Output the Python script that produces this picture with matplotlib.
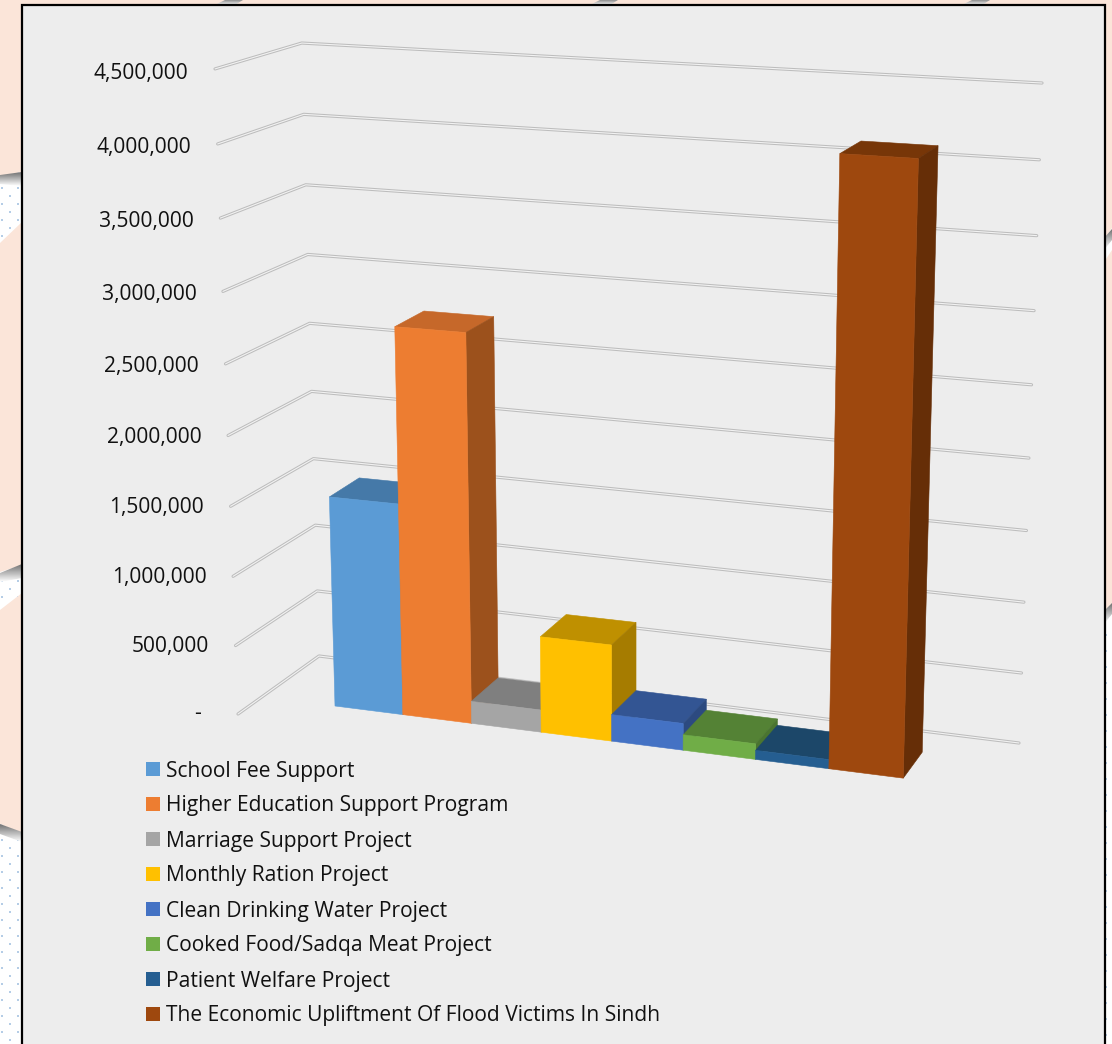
import numpy as np
import matplotlib
matplotlib.use("Agg")
import matplotlib.pyplot as plt
from matplotlib.patches import Polygon, Rectangle

plt.rcParams['font.family'] = ['Open Sans', 'DejaVu Sans']

# ---- data ----
categories = ["School Fee Support", "Higher Education Support Program", "Marriage Support Project",
              "Monthly Ration Project", "Clean Drinking Water Project", "Cooked Food/Sadqa Meat Project",
              "Patient Welfare Project", "The Economic Upliftment Of Flood Victims In Sindh"]
values = [1520000, 2760000, 160000, 685000, 190000, 110000, 64000, 4120000]
tick_values = [0, 500000, 1000000, 1500000, 2000000, 2500000, 3000000, 3500000, 4000000, 4500000]
tick_labels = ["-", "500,000", "1,000,000", "1,500,000", "2,000,000", "2,500,000",
               "3,000,000", "3,500,000", "4,000,000", "4,500,000"]
front_colors = ["#5B9BD5", "#ED7D31", "#A5A5A5", "#FFC000", "#4472C4", "#70AD47", "#255E91", "#9E480E"]
top_colors = ["#4579A8", "#C6682A", "#7F7F7F", "#BF9000", "#335593", "#548235", "#1C4769", "#773608"]
side_colors = ["#3E6C96", "#9C511C", "#6E6E6E", "#A67C00", "#2C4A80", "#4A7530", "#183D5A", "#662E07"]

# ---- view geometry (layout only) ----
VAXIS_MAX = 4500000
VANISH = np.array([633.0, 11805.0])      # vanishing point of the vertical edges
PERSP_K = 0.053                          # foreshortening of the value axis
WALL_FLOOR = [(238.0, 714.0), (319.0, 656.0), (1019.0, 743.0)]   # side wall front, corner, back wall end
WALL_LEN = [645.5, 613.2, 660.4]         # pixel height of full value axis at those points
scale_coef = np.linalg.solve(np.array([[u, v, 1.0] for u, v in WALL_FLOOR]), np.array(WALL_LEN))

# floor plane: x in bar units, y = 0 front of bars, 1 back of bars
FLOOR = np.array([[65.25, 18.0 + 18.44, 335.0],
                  [4.04, -24.6 + 15.04, 706.0],
                  [-0.0064, 0.02, 1.0]])

def floor_px(x, y):
    p = FLOOR @ np.array([x, y, 1.0])
    return p[:2] / p[2]

def lift(F, value):
    """Raise a floor pixel position by a value along the converging verticals."""
    F = np.asarray(F, float)
    t = value / VAXIS_MAX
    g = t / (1 + PERSP_K * (1 - t))
    d = F - VANISH
    d = d / np.hypot(*d)
    return tuple(F + d * (scale_coef @ np.array([F[0], F[1], 1.0])) * g)

def project(x, y, value):
    return lift(floor_px(x, y), value)

# ---- figure ----
W, H_px = 1112, 1044
fig = plt.figure(figsize=(W / 100, H_px / 100), dpi=100, facecolor="#FBE5D9")
ax = fig.add_axes([0, 0, 1, 1])
ax.set_xlim(0, W); ax.set_ylim(H_px, 0); ax.axis("off")

# ---- decorative page background ----
def gradient_band(poly, c0=(0.45, 0.45, 0.45), c1=(1, 1, 1)):
    xs = [p[0] for p in poly]; ys = [p[1] for p in poly]
    r = np.linspace(0, 1, 32)[:, None, None]
    g = r * np.array(c1)[None, None, :] + (1 - r) * np.array(c0)[None, None, :]
    im = ax.imshow(g, extent=(min(xs), max(xs), max(ys), min(ys)), aspect="auto", zorder=1, interpolation="bilinear")
    im.set_clip_path(Polygon(poly, transform=ax.transData))

def dotted_region(poly):
    ax.add_patch(Polygon(poly, closed=True, fc="white", ec="none", zorder=0.5))
    xs = np.arange(2, W, 8.0)
    ys = np.arange(int(min(p[1] for p in poly)), int(max(p[1] for p in poly)), 8.0)
    gx, gy = np.meshgrid(xs, ys)
    keep = ((np.arange(len(ys))[:, None] + np.arange(len(xs))[None, :]) % 2) == 0
    sc = ax.scatter(gx[keep], gy[keep], s=2.0, marker="s", color="#B5CDE6", lw=0, zorder=0.6)
    sc.set_clip_path(Polygon(poly, transform=ax.transData))

dotted_region([(0, 176), (22, 172), (22, 222), (0, 243)])
gradient_band([(0, 175), (22, 172), (22, 186), (0, 184)])
dotted_region([(0, 572), (22, 565), (22, 593), (0, 610)])
gradient_band([(0, 573), (22, 564), (22, 578), (0, 582)])
dotted_region([(0, 824), (22, 833), (22, 1044), (0, 1044)])
gradient_band([(0, 824), (22, 832), (22, 842), (0, 834)])
dotted_region([(1104, 240), (1112, 228), (1112, 250), (1104, 262)])
gradient_band([(1104, 238), (1112, 229), (1112, 240), (1104, 250)])
dotted_region([(1104, 612), (1112, 603), (1112, 1044), (1104, 1044)])
gradient_band([(1104, 611), (1112, 603), (1112, 614), (1104, 624)])
for x0 in (210, 585, 957):
    gradient_band([(x0 + 5, 5), (x0 + 15, 0), (x0 + 33, 0), (x0 + 25, 5)],
                  c0=(0.55, 0.55, 0.55), c1=(1, 1, 1))

# ---- chart area ----
ax.add_patch(Rectangle((22, 5), 1083, 1045, fc="#EDEDED", ec="black", lw=1.6, zorder=2))

# ---- gridlines ----
for tv in tick_values:
    pts = [lift(F, tv) for F in WALL_FLOOR]
    xs, ys = zip(*pts)
    ax.plot(xs, ys, color="#BDBDBD", lw=2.3, solid_capstyle="round", solid_joinstyle="round", zorder=3)
    ax.plot(xs, ys, color="#F2F2F2", lw=0.8, solid_capstyle="round", solid_joinstyle="round", zorder=3.1)

# ---- tick labels ----
for tv, lab in zip(tick_values, tick_labels):
    u, v = lift(WALL_FLOOR[0], tv)
    if lab == "-":
        ax.text(u - 37, v - 1, lab, ha="right", va="center", fontsize=15.15, color="#111111", zorder=6)
    else:
        ax.text(u - 26.5, v + 0.3 + 4 * tv / VAXIS_MAX, lab, ha="right", va="center",
                fontsize=15.15, color="#111111", zorder=6)

# ---- bars ----
for i, val in enumerate(values):
    f0 = project(i, 0, 0); f1 = project(i + 1, 0, 0)
    b1 = project(i + 1, 1, 0)
    t0 = project(i, 0, val); t1 = project(i + 1, 0, val)
    t2 = project(i + 1, 1, val); t3 = project(i, 1, val)
    z = 4 + i * 0.1
    kw = dict(closed=True, lw=0.4, zorder=z)
    ax.add_patch(Polygon([t0, t1, t2, t3], fc=top_colors[i], ec=top_colors[i], **kw))
    ax.add_patch(Polygon([f1, b1, t2, t1], fc=side_colors[i], ec=side_colors[i], **kw))
    ax.add_patch(Polygon([f0, f1, t1, t0], fc=front_colors[i], ec=front_colors[i], **kw))

# ---- legend ----
for i, (cat, c) in enumerate(zip(categories, front_colors)):
    yc = 769 + 35 * i
    ax.add_patch(Rectangle((146, yc - 7), 14, 14, fc=c, ec="none", zorder=6))
    ax.text(166, yc + 2, cat, ha="left", va="center", fontsize=15.15, color="#111111", zorder=6)

fig.savefig("out.png", dpi=100, facecolor=fig.get_facecolor())
